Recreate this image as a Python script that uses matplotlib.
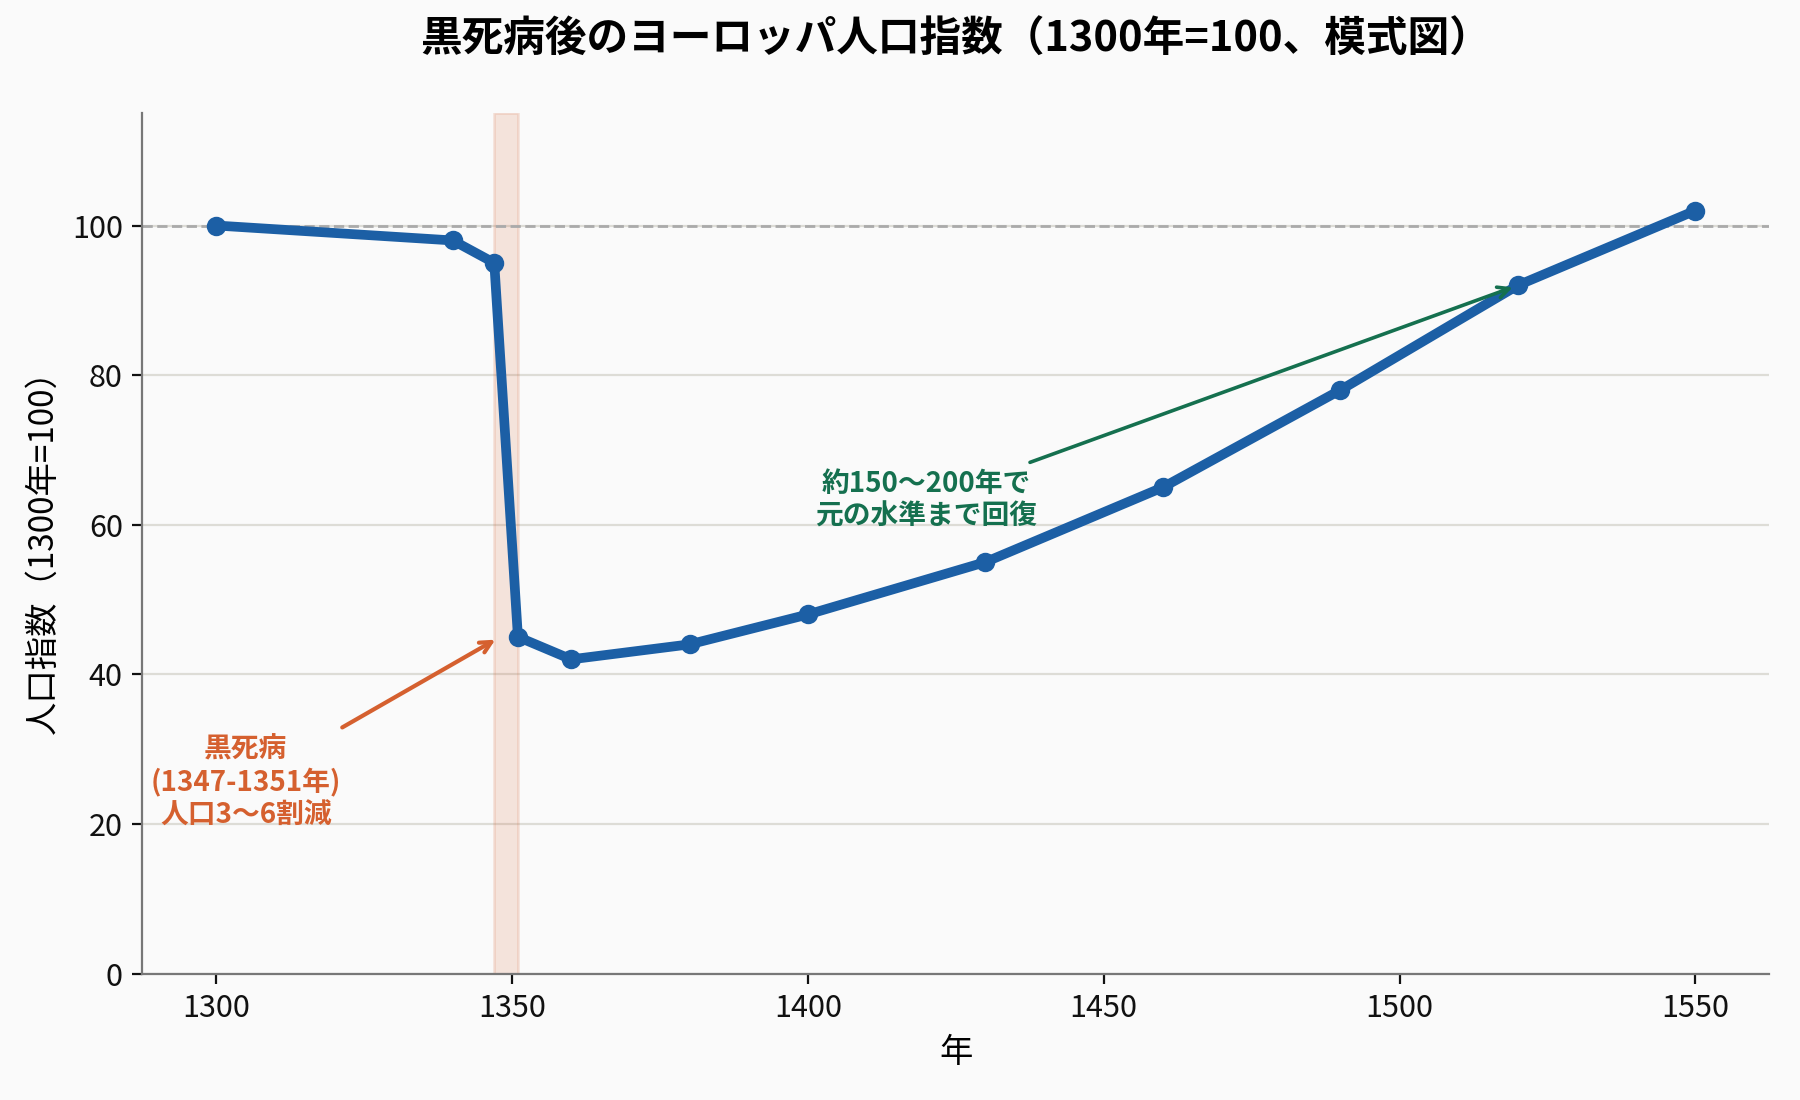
import matplotlib
matplotlib.use("Agg")
import matplotlib.pyplot as plt

plt.rcParams['font.family'] = ['Noto Sans CJK JP', 'DejaVu Sans']

years = [1300, 1340, 1347, 1351, 1360, 1380, 1400, 1430, 1460, 1490, 1520, 1550]
index = [100, 98, 95, 45, 42, 44, 48, 55, 65, 78, 92, 102]
plague_start, plague_end = 1347, 1351

blue = "#1c5fa5"
orange = "#d5602f"
green = "#15704f"

fig, ax = plt.subplots(figsize=(9, 5.5), dpi=200)
fig.patch.set_facecolor("#fafafa")
ax.set_facecolor("#fafafa")
fig.subplots_adjust(left=0.079, right=0.983, bottom=0.115, top=0.897)

ax.axvspan(plague_start, plague_end, color=orange, alpha=0.15, zorder=1)
ax.axhline(100, color="#aaaaaa", ls="--", lw=1, zorder=1)
ax.plot(years, index, color=blue, lw=3.5, marker="o", ms=6, zorder=3)

ax.annotate("黒死病\n(1347-1351年)\n人口3〜6割減", xy=(1348, 45), xytext=(1305, 25.5),
            ha="center", va="center", fontsize=10, fontweight="bold", color=orange,
            arrowprops=dict(arrowstyle="->", color=orange, lw=1.5))
ax.annotate("約150〜200年で\n元の水準まで回復", xy=(1520, 92), xytext=(1420, 63.3),
            ha="center", va="center", fontsize=10, fontweight="bold", color=green,
            arrowprops=dict(arrowstyle="->", color=green, lw=1.3))

ax.set_ylim(0, 115)
ax.set_xticks([1300, 1350, 1400, 1450, 1500, 1550])
ax.set_yticks([0, 20, 40, 60, 80, 100])
ax.yaxis.grid(True, color="#dddcd6", lw=0.8)
ax.set_axisbelow(True)
for s in ["top", "right"]:
    ax.spines[s].set_visible(False)
for s in ["left", "bottom"]:
    ax.spines[s].set_color("#777777")
ax.tick_params(labelsize=11, colors="#111111")
ax.set_xlabel("年", fontsize=12)
ax.set_ylabel("人口指数（1300年=100）", fontsize=12)
ax.set_title("黒死病後のヨーロッパ人口指数（1300年=100、模式図）", fontsize=15,
             fontweight="bold", pad=22)

fig.savefig("out.png", dpi=200, facecolor=fig.get_facecolor())
